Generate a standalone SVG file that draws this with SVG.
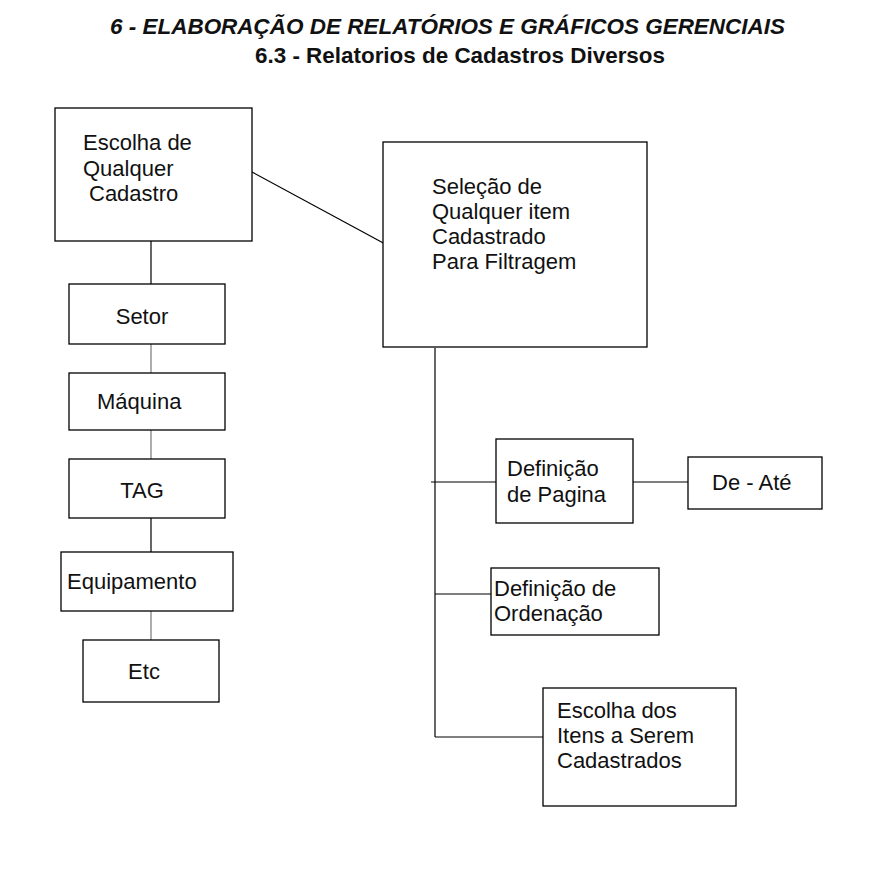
<svg xmlns="http://www.w3.org/2000/svg" width="873" height="886" viewBox="0 0 873 886">
<style>
.box{fill:#fff;stroke:#000;stroke-width:1.3}
.t{font-family:"Liberation Sans",Arial,sans-serif;font-size:22px;fill:#111}
.c{stroke:#000;stroke-width:1.2;fill:none}
.g{stroke:#777;stroke-width:1.2;fill:none}
.h{font-family:"Liberation Sans",Arial,sans-serif;font-weight:bold;font-size:22px;fill:#111}
</style>
<rect width="873" height="886" fill="#fff"/>
<text class="h" x="110" y="34" font-style="italic" textLength="675" lengthAdjust="spacingAndGlyphs">6 - ELABORAÇÃO DE RELATÓRIOS E GRÁFICOS GERENCIAIS</text>
<text class="h" x="255" y="63" textLength="410" lengthAdjust="spacingAndGlyphs">6.3 - Relatorios de Cadastros Diversos</text>
<g id="connectors">
<line class="c" x1="252" y1="172" x2="387" y2="245"/>
<line class="c" x1="151" y1="241" x2="151" y2="284"/>
<line class="g" x1="151" y1="344" x2="151" y2="373"/>
<line class="g" x1="151" y1="430" x2="151" y2="459"/>
<line class="c" x1="151" y1="518" x2="151" y2="552"/>
<line class="g" x1="151" y1="611" x2="151" y2="640"/>
<line class="c" x1="435" y1="348" x2="435" y2="737"/>
<line class="c" x1="431" y1="482" x2="496" y2="482"/>
<line class="c" x1="633" y1="482" x2="688" y2="482"/>
<line class="c" x1="435" y1="594" x2="491" y2="594"/>
<line class="c" x1="435" y1="737" x2="543" y2="737"/>
</g>
<g id="escolha-cadastro">
<rect class="box" x="55" y="108" width="197" height="133"/>
<text class="t" x="83" y="150">Escolha de</text>
<text class="t" x="83" y="176">Qualquer</text>
<text class="t" x="89" y="201">Cadastro</text>
</g>
<g id="selecao">
<rect class="box" x="383" y="142" width="264" height="205"/>
<text class="t" x="432" y="194">Seleção de</text>
<text class="t" x="432" y="219">Qualquer item</text>
<text class="t" x="432" y="244">Cadastrado</text>
<text class="t" x="432" y="269">Para Filtragem</text>
</g>
<g id="setor">
<rect class="box" x="69" y="284" width="156" height="60"/>
<text class="t" x="142" y="324" text-anchor="middle">Setor</text>
</g>
<g id="maquina">
<rect class="box" x="69" y="373" width="156" height="57"/>
<text class="t" x="97" y="409">Máquina</text>
</g>
<g id="tag">
<rect class="box" x="69" y="459" width="156" height="59"/>
<text class="t" x="142" y="498" text-anchor="middle">TAG</text>
</g>
<g id="equipamento">
<rect class="box" x="61" y="552" width="172" height="59"/>
<text class="t" x="67" y="589">Equipamento</text>
</g>
<g id="etc">
<rect class="box" x="83" y="640" width="136" height="62"/>
<text class="t" x="144" y="679" text-anchor="middle">Etc</text>
</g>
<g id="definicao-pagina">
<rect class="box" x="496" y="439" width="137" height="84"/>
<text class="t" x="507" y="476">Definição</text>
<text class="t" x="507" y="502">de Pagina</text>
</g>
<g id="de-ate">
<rect class="box" x="688" y="457" width="134" height="52"/>
<text class="t" x="712" y="490">De - Até</text>
</g>
<g id="definicao-ordenacao">
<rect class="box" x="491" y="568" width="168" height="67"/>
<text class="t" x="494" y="596">Definição de</text>
<text class="t" x="494" y="621">Ordenação</text>
</g>
<g id="escolha-itens">
<rect class="box" x="543" y="688" width="193" height="118"/>
<text class="t" x="557" y="718">Escolha dos</text>
<text class="t" x="557" y="743">Itens a Serem</text>
<text class="t" x="557" y="768">Cadastrados</text>
</g>
</svg>
